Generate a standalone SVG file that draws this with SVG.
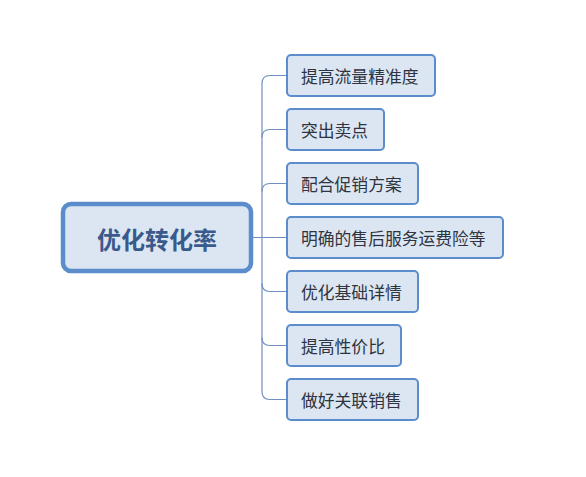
<svg xmlns="http://www.w3.org/2000/svg" width="586" height="477" viewBox="0 0 586 477">
<style>
.conn{fill:none;stroke:#6f8fbf;stroke-width:1.2}
.child rect{fill:#dce6f2;stroke:#5b8ccb;stroke-width:2}
.child text{font-family:"Noto Sans CJK SC","Microsoft YaHei",sans-serif;font-size:16.8px;fill:#2e3440;dominant-baseline:central}
.root rect{fill:#dce6f2;stroke:#5b8ccb;stroke-width:4.5}
.root text{font-family:"Noto Sans CJK SC",sans-serif;font-size:24px;font-weight:bold;fill:#3a5a8c;dominant-baseline:central;text-anchor:middle}
</style>
<rect width="586" height="477" fill="#ffffff"/>
<g id="connectors">
<path class="conn" d="M253,237.5 H287"/>
<path class="conn" d="M287,75.5 H270 Q262,75.5 262,83.5 V391.5 Q262,399.5 270,399.5 H287"/>
<path class="conn" d="M262,137.5 Q262,129.5 270,129.5 H287"/>
<path class="conn" d="M262,191.5 Q262,183.5 270,183.5 H287"/>
<path class="conn" d="M262,283.5 Q262,291.5 270,291.5 H287"/>
<path class="conn" d="M262,337.5 Q262,345.5 270,345.5 H287"/>
</g>
<g id="root" class="root">
<rect x="63" y="204" width="188" height="67" rx="8"/>
<text x="157" y="238">优化转化率</text>
</g>
<g id="n1" class="child"><rect x="287" y="55" width="148" height="41" rx="4"/><text x="301" y="75.5">提高流量精准度</text></g>
<g id="n2" class="child"><rect x="287" y="109" width="97" height="41" rx="4"/><text x="301" y="129.5">突出卖点</text></g>
<g id="n3" class="child"><rect x="287" y="163" width="131" height="41" rx="4"/><text x="301" y="183.5">配合促销方案</text></g>
<g id="n4" class="child"><rect x="287" y="217" width="216" height="41" rx="4"/><text x="301" y="237.5">明确的售后服务运费险等</text></g>
<g id="n5" class="child"><rect x="287" y="271" width="131" height="41" rx="4"/><text x="301" y="291.5">优化基础详情</text></g>
<g id="n6" class="child"><rect x="287" y="325" width="114" height="41" rx="4"/><text x="301" y="345.5">提高性价比</text></g>
<g id="n7" class="child"><rect x="287" y="379" width="131" height="41" rx="4"/><text x="301" y="399.5">做好关联销售</text></g>
</svg>
